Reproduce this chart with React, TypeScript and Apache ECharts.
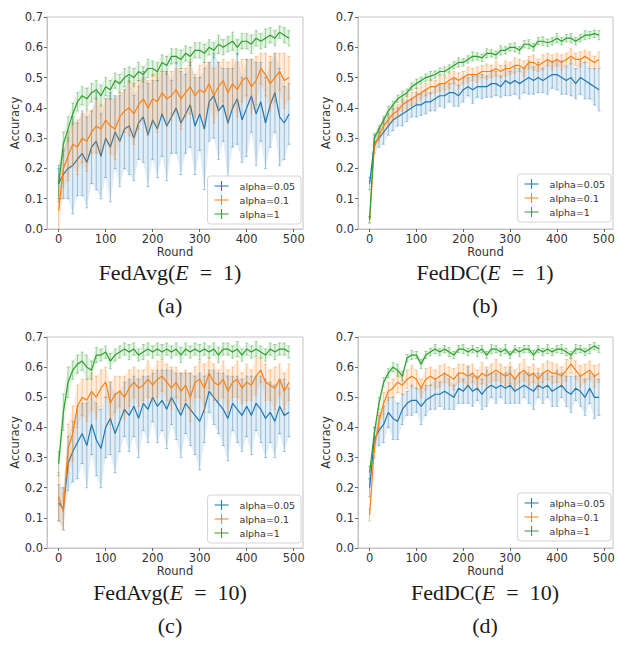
import React, { useEffect, useRef } from "react";
import * as echarts from "echarts";

const ROUNDS = [0,10,20,30,40,50,60,70,80,90,100,110,120,130,140,150,160,170,180,190,200,210,220,230,240,250,260,270,280,290,300,310,320,330,340,350,360,370,380,390,400,410,420,430,440,450,460,470,480,490];
const SERIES_NAMES = ["alpha=0.05", "alpha=0.1", "alpha=1"];
const COLORS = ["#1f77b4", "#ff7f0e", "#2ca02c"];
const X_TICKS = [0, 100, 200, 300, 400, 500];

// (a) FedAvg E=1
const A_MEAN_005 = [0.15,0.18,0.20,0.21,0.23,0.25,0.22,0.27,0.29,0.24,0.30,0.27,0.32,0.29,0.33,0.34,0.30,0.35,0.37,0.31,0.36,0.33,0.38,0.34,0.37,0.40,0.35,0.38,0.41,0.34,0.38,0.33,0.42,0.44,0.39,0.41,0.35,0.40,0.43,0.36,0.40,0.44,0.38,0.42,0.35,0.41,0.45,0.37,0.35,0.38];
const A_ERR_005 = [0.06,0.08,0.10,0.16,0.12,0.14,0.15,0.12,0.16,0.14,0.13,0.18,0.12,0.15,0.13,0.16,0.14,0.12,0.15,0.17,0.13,0.16,0.14,0.18,0.12,0.15,0.17,0.13,0.14,0.16,0.12,0.20,0.13,0.14,0.16,0.12,0.18,0.13,0.15,0.14,0.16,0.12,0.17,0.13,0.15,0.14,0.13,0.16,0.12,0.10];
const A_MEAN_01 = [0.06,0.20,0.24,0.28,0.27,0.30,0.29,0.32,0.34,0.33,0.36,0.34,0.33,0.37,0.39,0.40,0.38,0.41,0.43,0.40,0.43,0.42,0.45,0.43,0.44,0.46,0.43,0.45,0.47,0.44,0.46,0.45,0.48,0.44,0.47,0.49,0.45,0.48,0.46,0.49,0.50,0.47,0.49,0.53,0.51,0.48,0.50,0.52,0.49,0.50];
const A_ERR_01 = [0.10,0.06,0.08,0.07,0.09,0.08,0.10,0.07,0.09,0.08,0.07,0.09,0.10,0.08,0.07,0.09,0.10,0.08,0.07,0.09,0.08,0.10,0.07,0.09,0.08,0.07,0.10,0.08,0.09,0.07,0.08,0.10,0.07,0.09,0.08,0.07,0.10,0.08,0.09,0.07,0.06,0.09,0.08,0.05,0.07,0.09,0.08,0.06,0.09,0.07];
const A_MEAN_1 = [0.15,0.28,0.33,0.38,0.42,0.44,0.43,0.45,0.46,0.44,0.47,0.46,0.49,0.48,0.50,0.51,0.50,0.52,0.51,0.53,0.53,0.52,0.55,0.54,0.57,0.57,0.56,0.58,0.57,0.59,0.59,0.58,0.60,0.59,0.61,0.60,0.61,0.62,0.60,0.62,0.62,0.61,0.63,0.62,0.63,0.64,0.63,0.65,0.64,0.63];
const A_ERR_1 = [0.05,0.04,0.04,0.035,0.03,0.03,0.035,0.03,0.03,0.035,0.03,0.03,0.025,0.03,0.03,0.025,0.03,0.03,0.025,0.03,0.025,0.03,0.025,0.03,0.025,0.025,0.03,0.025,0.03,0.025,0.025,0.03,0.025,0.025,0.03,0.025,0.025,0.03,0.025,0.025,0.025,0.03,0.025,0.025,0.03,0.025,0.025,0.02,0.025,0.025];

// (b) FedDC E=1
const B_MEAN_005 = [0.15,0.28,0.30,0.32,0.34,0.36,0.37,0.38,0.39,0.40,0.41,0.41,0.42,0.42,0.43,0.44,0.44,0.45,0.45,0.44,0.46,0.47,0.46,0.47,0.47,0.47,0.48,0.48,0.47,0.49,0.48,0.49,0.48,0.49,0.50,0.49,0.50,0.49,0.50,0.51,0.51,0.50,0.49,0.50,0.48,0.50,0.49,0.48,0.47,0.46];
const B_ERR_005 = [0.02,0.03,0.03,0.04,0.03,0.035,0.03,0.04,0.035,0.03,0.04,0.035,0.04,0.03,0.04,0.035,0.04,0.03,0.045,0.035,0.04,0.03,0.045,0.035,0.04,0.035,0.045,0.04,0.035,0.05,0.04,0.045,0.05,0.04,0.055,0.045,0.05,0.04,0.055,0.045,0.05,0.055,0.045,0.06,0.05,0.055,0.06,0.05,0.06,0.07];
const B_MEAN_01 = [0.03,0.27,0.31,0.34,0.36,0.38,0.39,0.41,0.42,0.43,0.44,0.45,0.46,0.47,0.47,0.48,0.48,0.49,0.50,0.49,0.50,0.51,0.51,0.51,0.52,0.52,0.52,0.53,0.52,0.53,0.53,0.54,0.54,0.53,0.55,0.55,0.54,0.55,0.56,0.55,0.56,0.55,0.56,0.57,0.56,0.56,0.57,0.56,0.55,0.56];
const B_ERR_01 = [0.01,0.02,0.02,0.025,0.02,0.025,0.02,0.02,0.025,0.02,0.025,0.02,0.02,0.025,0.02,0.025,0.02,0.025,0.02,0.025,0.02,0.025,0.02,0.025,0.02,0.025,0.02,0.025,0.02,0.025,0.02,0.025,0.02,0.025,0.02,0.025,0.02,0.025,0.02,0.025,0.02,0.025,0.02,0.025,0.02,0.025,0.02,0.025,0.02,0.025];
const B_MEAN_1 = [0.03,0.30,0.33,0.36,0.39,0.41,0.43,0.44,0.45,0.47,0.48,0.49,0.50,0.505,0.51,0.52,0.52,0.53,0.54,0.55,0.55,0.56,0.57,0.57,0.565,0.58,0.58,0.575,0.59,0.59,0.60,0.60,0.59,0.61,0.61,0.60,0.62,0.62,0.615,0.62,0.63,0.62,0.63,0.63,0.62,0.63,0.64,0.64,0.645,0.64];
const B_ERR_1 = [0.01,0.015,0.012,0.012,0.015,0.012,0.012,0.015,0.012,0.012,0.015,0.012,0.012,0.015,0.012,0.012,0.015,0.012,0.012,0.015,0.012,0.012,0.015,0.012,0.012,0.015,0.012,0.012,0.015,0.012,0.012,0.015,0.012,0.012,0.015,0.012,0.012,0.015,0.012,0.012,0.015,0.012,0.012,0.015,0.012,0.012,0.015,0.012,0.012,0.015];

// (c) FedAvg E=10
const C_MEAN_005 = [0.15,0.13,0.28,0.32,0.35,0.38,0.34,0.41,0.36,0.33,0.40,0.43,0.38,0.42,0.46,0.44,0.47,0.43,0.48,0.46,0.50,0.47,0.49,0.46,0.50,0.47,0.44,0.48,0.46,0.44,0.42,0.46,0.52,0.50,0.48,0.46,0.43,0.48,0.46,0.44,0.47,0.44,0.48,0.46,0.43,0.45,0.42,0.47,0.44,0.45];
const C_ERR_005 = [0.06,0.07,0.09,0.10,0.12,0.10,0.14,0.10,0.12,0.13,0.10,0.12,0.13,0.10,0.09,0.12,0.10,0.13,0.09,0.11,0.08,0.12,0.10,0.13,0.09,0.11,0.14,0.10,0.12,0.13,0.16,0.11,0.07,0.09,0.10,0.12,0.14,0.09,0.11,0.12,0.10,0.13,0.09,0.11,0.13,0.10,0.12,0.09,0.12,0.08];
const C_MEAN_01 = [0.17,0.12,0.33,0.38,0.47,0.50,0.49,0.52,0.50,0.53,0.55,0.48,0.51,0.52,0.50,0.53,0.55,0.53,0.54,0.56,0.54,0.56,0.57,0.55,0.53,0.55,0.52,0.54,0.50,0.55,0.56,0.53,0.58,0.55,0.54,0.56,0.52,0.55,0.56,0.53,0.55,0.54,0.57,0.59,0.55,0.54,0.53,0.56,0.52,0.55];
const C_ERR_01 = [0.08,0.06,0.08,0.09,0.07,0.06,0.07,0.06,0.07,0.06,0.05,0.07,0.06,0.05,0.07,0.06,0.05,0.06,0.05,0.06,0.05,0.06,0.05,0.06,0.07,0.05,0.06,0.05,0.08,0.05,0.06,0.08,0.05,0.06,0.05,0.06,0.07,0.05,0.06,0.05,0.06,0.05,0.06,0.04,0.06,0.05,0.07,0.05,0.06,0.06];
const C_MEAN_1 = [0.28,0.45,0.55,0.59,0.61,0.62,0.60,0.59,0.64,0.64,0.65,0.62,0.64,0.65,0.66,0.65,0.66,0.64,0.65,0.66,0.65,0.66,0.65,0.66,0.65,0.66,0.64,0.66,0.65,0.66,0.65,0.66,0.65,0.66,0.64,0.66,0.66,0.65,0.66,0.64,0.66,0.65,0.66,0.65,0.64,0.66,0.65,0.66,0.66,0.65];
const C_ERR_1 = [0.04,0.06,0.05,0.03,0.03,0.03,0.04,0.03,0.025,0.02,0.02,0.025,0.02,0.02,0.02,0.025,0.02,0.02,0.025,0.02,0.02,0.02,0.025,0.02,0.02,0.02,0.025,0.02,0.02,0.02,0.025,0.02,0.02,0.02,0.025,0.02,0.02,0.02,0.025,0.02,0.02,0.02,0.025,0.02,0.02,0.02,0.025,0.02,0.02,0.02];

// (d) FedDC E=10
const D_MEAN_005 = [0.20,0.36,0.39,0.41,0.45,0.43,0.42,0.46,0.48,0.49,0.49,0.47,0.49,0.50,0.51,0.51,0.52,0.51,0.50,0.53,0.52,0.54,0.52,0.53,0.51,0.53,0.54,0.53,0.54,0.53,0.54,0.52,0.53,0.54,0.53,0.52,0.54,0.53,0.54,0.52,0.53,0.54,0.52,0.51,0.53,0.52,0.50,0.53,0.50,0.50];
const D_ERR_005 = [0.03,0.04,0.05,0.06,0.05,0.07,0.06,0.05,0.04,0.05,0.04,0.06,0.05,0.04,0.05,0.04,0.06,0.05,0.04,0.05,0.04,0.06,0.05,0.04,0.05,0.06,0.04,0.05,0.04,0.05,0.06,0.04,0.05,0.04,0.05,0.06,0.04,0.05,0.04,0.05,0.06,0.04,0.05,0.06,0.04,0.05,0.06,0.05,0.07,0.06];
const D_MEAN_01 = [0.11,0.33,0.42,0.48,0.52,0.53,0.55,0.54,0.56,0.57,0.56,0.53,0.56,0.57,0.56,0.57,0.58,0.57,0.56,0.58,0.58,0.57,0.58,0.56,0.58,0.57,0.58,0.59,0.58,0.57,0.58,0.56,0.58,0.59,0.57,0.58,0.56,0.58,0.59,0.58,0.58,0.57,0.59,0.61,0.59,0.57,0.58,0.59,0.57,0.58];
const D_ERR_01 = [0.02,0.03,0.03,0.035,0.03,0.03,0.035,0.03,0.03,0.035,0.03,0.03,0.035,0.03,0.03,0.035,0.03,0.03,0.035,0.03,0.03,0.035,0.03,0.03,0.035,0.03,0.03,0.035,0.03,0.03,0.035,0.03,0.03,0.035,0.03,0.03,0.035,0.03,0.03,0.035,0.03,0.03,0.035,0.03,0.03,0.035,0.03,0.03,0.035,0.03];
const D_MEAN_1 = [0.25,0.38,0.48,0.55,0.58,0.60,0.59,0.57,0.63,0.64,0.64,0.61,0.64,0.65,0.66,0.65,0.66,0.65,0.64,0.66,0.66,0.65,0.66,0.65,0.66,0.64,0.66,0.66,0.65,0.66,0.64,0.66,0.65,0.66,0.66,0.64,0.66,0.65,0.66,0.65,0.66,0.66,0.65,0.64,0.66,0.66,0.65,0.66,0.67,0.66];
const D_ERR_1 = [0.02,0.02,0.02,0.015,0.015,0.015,0.02,0.015,0.012,0.015,0.012,0.015,0.012,0.012,0.015,0.012,0.012,0.015,0.012,0.012,0.015,0.012,0.012,0.015,0.012,0.012,0.015,0.012,0.012,0.015,0.012,0.012,0.015,0.012,0.012,0.015,0.012,0.012,0.015,0.012,0.012,0.015,0.012,0.012,0.015,0.012,0.012,0.015,0.012,0.012];

const PANELS = [
  { method: "FedAvg", e: "1", tag: "(a)", means: [A_MEAN_005, A_MEAN_01, A_MEAN_1], errs: [A_ERR_005, A_ERR_01, A_ERR_1] },
  { method: "FedDC", e: "1", tag: "(b)", means: [B_MEAN_005, B_MEAN_01, B_MEAN_1], errs: [B_ERR_005, B_ERR_01, B_ERR_1] },
  { method: "FedAvg", e: "10", tag: "(c)", means: [C_MEAN_005, C_MEAN_01, C_MEAN_1], errs: [C_ERR_005, C_ERR_01, C_ERR_1] },
  { method: "FedDC", e: "10", tag: "(d)", means: [D_MEAN_005, D_MEAN_01, D_MEAN_1], errs: [D_ERR_005, D_ERR_01, D_ERR_1] },
];

const LAYOUT = [
  { left: 47, top: 17, width: 256, height: 212, capX: 170, capY: 272, tagY: 305, legRight: 317, legTop: 176 },
  { left: 358, top: 17, width: 255, height: 212, capX: 485, capY: 272, tagY: 305, legRight: 7, legTop: 174 },
  { left: 47, top: 337, width: 256, height: 211, capX: 170, capY: 592, tagY: 625, legRight: 317, legTop: 495 },
  { left: 358, top: 337, width: 255, height: 211, capX: 485, capY: 592, tagY: 625, legRight: 7, legTop: 493 },
];

const SANS = "DejaVu Sans";
const SERIF = "Liberation Serif";
const AXIS_TEXT = "#333";
const FRAME = "#c4c4c4";

function buildOption() {
  const grids: any[] = [];
  const xAxes: any[] = [];
  const yAxes: any[] = [];
  const series: any[] = [];
  const legends: any[] = [];
  const graphics: any[] = [];

  PANELS.forEach((p, i) => {
    const L = LAYOUT[i];
    grids.push({ left: L.left, top: L.top, width: L.width, height: L.height, show: true, borderColor: FRAME, borderWidth: 1, backgroundColor: "transparent" });
    xAxes.push({
      gridIndex: i, type: "value", min: -24.75, max: 519.75,
      name: "Round", nameLocation: "middle", nameGap: 11,
      nameTextStyle: { fontFamily: SANS, fontSize: 11.5, color: AXIS_TEXT },
      axisLine: { show: true, onZero: false, lineStyle: { color: FRAME } },
      axisTick: { show: true, customValues: X_TICKS, length: 3, lineStyle: { color: "#666" } },
      axisLabel: { customValues: X_TICKS, fontFamily: SANS, fontSize: 11.5, color: AXIS_TEXT, margin: 4 },
      splitLine: { show: false },
    });
    yAxes.push({
      gridIndex: i, type: "value", min: 0, max: 0.7, interval: 0.1,
      name: "Accuracy", nameLocation: "middle", nameGap: 22, nameRotate: 90,
      nameTextStyle: { fontFamily: SANS, fontSize: 11.5, color: AXIS_TEXT },
      axisLine: { show: true, onZero: false, lineStyle: { color: FRAME } },
      axisTick: { show: true, length: 3, lineStyle: { color: "#666" } },
      axisLabel: { fontFamily: SANS, fontSize: 11.5, color: AXIS_TEXT, margin: 4, formatter: (v: number) => v.toFixed(1) },
      splitLine: { show: false },
    });

    SERIES_NAMES.forEach((name, s) => {
      const mean = p.means[s];
      const err = p.errs[s];
      const color = COLORS[s];
      const n = ROUNDS.length;
      series.push({
        type: "custom", name: name + " error", xAxisIndex: i, yAxisIndex: i, clip: true, silent: true,
        data: ROUNDS.map((r, k) => [r, mean[k] - err[k], mean[k] + err[k], k]),
        encode: { x: 0, y: [1, 2] },
        z: 2 + s * 2,
        renderItem: (params: any, api: any) => {
          const k = api.value(3);
          const x = api.value(0);
          const lo = api.coord([x, api.value(1)]);
          const hi = api.coord([x, api.value(2)]);
          const c = 1.5;
          const st = { stroke: color, lineWidth: 1, opacity: 0.4 };
          const children: any[] = [];
          if (k < n - 1) {
            const x2 = ROUNDS[k + 1];
            const lo2 = api.coord([x2, mean[k + 1] - err[k + 1]]);
            const hi2 = api.coord([x2, mean[k + 1] + err[k + 1]]);
            children.push({
              type: "polygon",
              shape: { points: [lo, hi, hi2, lo2] },
              style: { fill: color, opacity: 0.13, stroke: "none" },
            });
          }
          children.push(
            { type: "line", shape: { x1: lo[0], y1: lo[1], x2: hi[0], y2: hi[1] }, style: st },
            { type: "line", shape: { x1: lo[0] - c, y1: lo[1], x2: lo[0] + c, y2: lo[1] }, style: st },
            { type: "line", shape: { x1: hi[0] - c, y1: hi[1], x2: hi[0] + c, y2: hi[1] }, style: st }
          );
          return { type: "group", children };
        },
      });
      series.push({
        type: "line", name, xAxisIndex: i, yAxisIndex: i, clip: true,
        data: ROUNDS.map((r, k) => [r, mean[k]]),
        symbol: "none", color,
        lineStyle: { color, width: 1.2 },
        itemStyle: { color },
        z: 3 + s * 2,
      });
    });

    legends.push({
      orient: "vertical", right: L.legRight, top: L.legTop,
      itemWidth: 22, itemHeight: 10, itemGap: 4,
      padding: [5, 6, 5, 7],
      borderColor: "#d4d4d4", borderWidth: 1, borderRadius: 3,
      backgroundColor: "rgba(255,255,255,0.85)",
      icon: "path://M0,9H28V11H0Z M13,0H15V20H13Z",
      selectedMode: false,
      textStyle: { fontFamily: SANS, fontSize: 9.5, color: AXIS_TEXT, padding: [0, 0, 0, 2] },
      data: SERIES_NAMES,
    });

    graphics.push({
      type: "text", x: L.capX, y: L.capY, silent: true,
      style: {
        text: "{n|" + p.method + "(}{i|E}{n|\u2002=\u2002" + p.e + ")}",
        align: "center", verticalAlign: "middle", textAlign: "center", textVerticalAlign: "middle",
        rich: {
          n: { fontFamily: SERIF, fontSize: 22, fill: "#1a1a1a" },
          i: { fontFamily: SERIF, fontSize: 22, fontStyle: "italic", fill: "#1a1a1a" },
        },
      },
    });
    graphics.push({
      type: "text", x: L.capX, y: L.tagY, silent: true,
      style: {
        text: p.tag, fontFamily: SERIF, fontSize: 22, fill: "#1a1a1a",
        align: "center", verticalAlign: "middle", textAlign: "center", textVerticalAlign: "middle",
      },
    });
  });

  return {
    animation: false,
    backgroundColor: "#ffffff",
    grid: grids,
    xAxis: xAxes,
    yAxis: yAxes,
    legend: legends,
    series,
    graphic: graphics,
  };
}

export default function App() {
  const ref = useRef<HTMLDivElement>(null);
  useEffect(() => {
    if (!ref.current) return;
    const chart = echarts.init(ref.current, null, { renderer: "svg" });
    chart.setOption(buildOption() as any);
    return () => chart.dispose();
  }, []);
  return <div ref={ref} style={{ position: "fixed", left: 0, top: 0, width: 618, height: 647 }} />;
}
